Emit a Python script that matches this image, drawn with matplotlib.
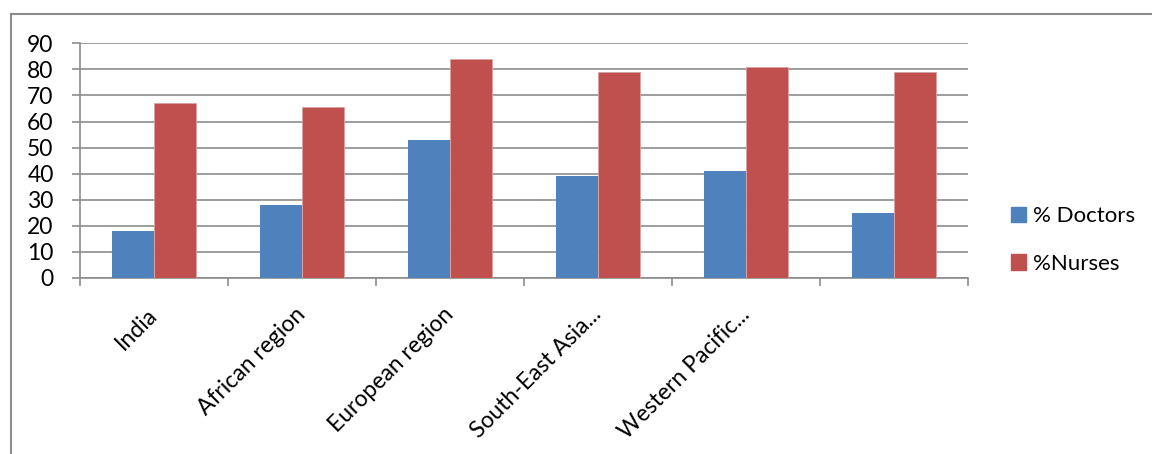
import numpy as np
import matplotlib.pyplot as plt
from matplotlib.lines import Line2D

# health workforce share by region
regions = ["India", "African region", "European region", "South-East Asia...",
           "Western Pacific...", ""]
doctors = [18, 28, 53, 39, 41, 25]
nurses = [67, 65.5, 84, 79, 81, 79]

BLUE = "#4F81BD"
RED = "#C0504D"
GRID = "#8C8C8C"

plt.rcParams['font.family'] = ['Lato', 'DejaVu Sans']

fig = plt.figure(figsize=(11.52, 4.54), dpi=100)
W, H = 1152, 454
ax = fig.add_axes([80 / W, 1 - 278 / H, (968 - 80) / W, (278 - 43.3) / H])

x = np.arange(len(regions)) + 0.5
bw = 1 / 3.5
ax.bar(x - bw / 2, doctors, bw, color=BLUE, zorder=3)
ax.bar(x + bw / 2, nurses, bw, color=RED, edgecolor="#D9A3A1", linewidth=0.6, zorder=3)

ax.set_xlim(0, len(regions))
ax.set_ylim(0, 90)
ax.set_yticks(np.arange(0, 91, 10))
ax.yaxis.grid(True, color=GRID, linewidth=1.2, zorder=0)
ax.tick_params(axis='y', length=6, width=1.2, color=GRID, labelsize=16.5, pad=13)

# category boundaries get the tick marks, centers carry the labels
ax.set_xticks(x)
ax.set_xticklabels(regions, rotation=45, ha='right', va='center',
                   rotation_mode='anchor', fontsize=16.5)
ax.set_xticks(np.arange(len(regions) + 1), minor=True)
ax.tick_params(axis='x', which='major', length=0, pad=24)
ax.tick_params(axis='x', which='minor', length=6, width=1.2, color=GRID)

for side in ('top', 'right'):
    ax.spines[side].set_visible(False)
for side in ('left', 'bottom'):
    ax.spines[side].set_color(GRID)
    ax.spines[side].set_linewidth(1.2)

# legend on the right
handles = [plt.Rectangle((0, 0), 1, 1, color=BLUE),
           plt.Rectangle((0, 0), 1, 1, color=RED)]
fig.legend(handles, ["% Doctors", "%Nurses"], loc='center left',
           bbox_to_anchor=(991 / W, 1 - 240 / H), frameon=False,
           fontsize=16, handlelength=0.68, handleheight=0.68,
           handletextpad=0.3, labelspacing=1.25)

# chart frame
fig.add_artist(Line2D([11 / W, 1], [1 - 14 / H, 1 - 14 / H], color=GRID, linewidth=1.5,
                      transform=fig.transFigure))
fig.add_artist(Line2D([11 / W, 11 / W], [0, 1 - 14 / H], color=GRID, linewidth=1.5,
                      transform=fig.transFigure))

fig.savefig("out.png", dpi=100)
